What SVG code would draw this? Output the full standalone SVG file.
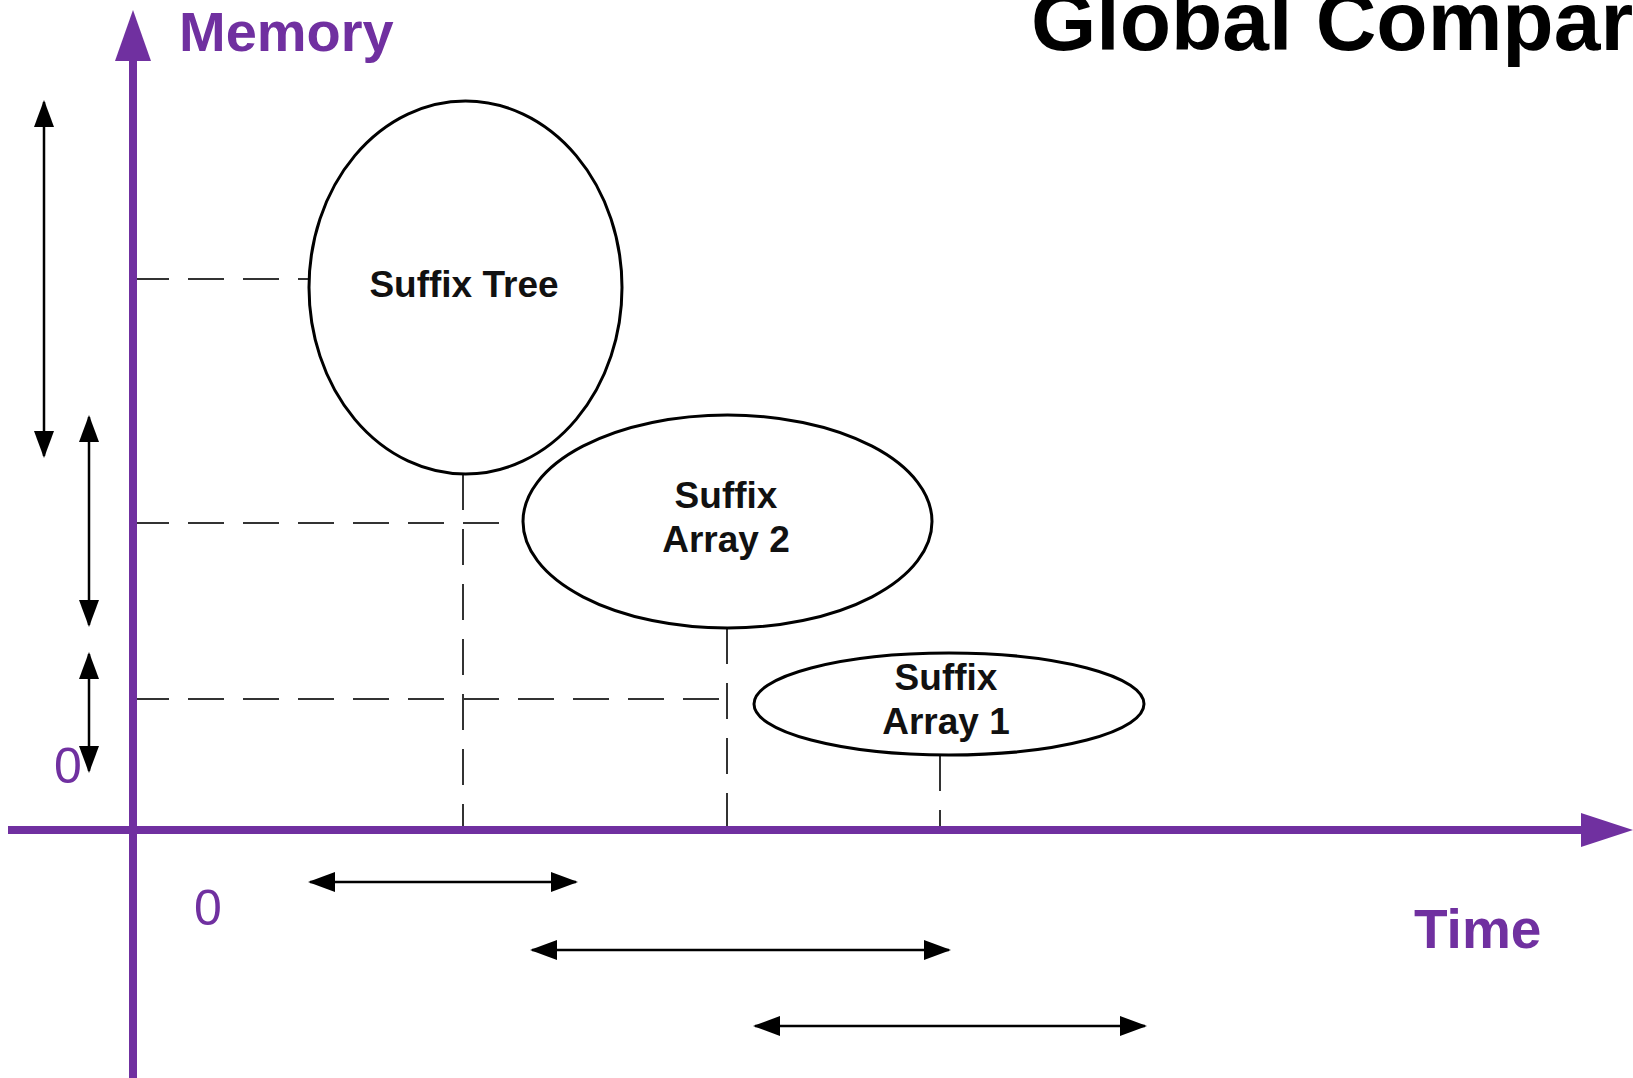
<svg xmlns="http://www.w3.org/2000/svg" width="1633" height="1078" viewBox="0 0 1633 1078">
  <style>
    .axis { stroke: #7030A0; stroke-width: 8; fill: none; }
    .axishead { fill: #7030A0; }
    .axislabel { font-family: "Liberation Sans", Arial, sans-serif; font-weight: bold; fill: #7030A0; }
    .zero { font-family: "Liberation Sans", Arial, sans-serif; font-size: 50px; fill: #7030A0; text-anchor: middle; }
    .dash { stroke: #333; stroke-width: 2; stroke-dasharray: 36 19; fill: none; }
    .node { fill: #fff; stroke: #000; stroke-width: 3; }
    .label { font-family: "Liberation Sans", Arial, sans-serif; font-weight: bold; font-size: 37px; fill: #111; text-anchor: middle; }
    .dim { stroke: #000; stroke-width: 2.5; fill: none; marker-start: url(#ah); marker-end: url(#ah); }
    .title { font-family: "Liberation Sans", Arial, sans-serif; font-weight: bold; font-size: 84px; fill: #000; }
  </style>
  <defs>
    <marker id="ah" viewBox="0 0 27 20" refX="25" refY="10" markerWidth="27" markerHeight="20" markerUnits="userSpaceOnUse" orient="auto-start-reverse">
      <path d="M0,0 L27,10 L0,20 z" fill="#000"/>
    </marker>
  </defs>
  <rect width="1633" height="1078" fill="#fff"/>

  <text class="title" x="1031" y="50">Global Compar</text>

  <g id="connectors">
    <!-- dashed guide lines -->
    <line class="dash" x1="133" y1="279" x2="316" y2="279"/>
    <line class="dash" x1="133" y1="523" x2="518" y2="523"/>
    <line class="dash" x1="133" y1="699" x2="736" y2="699"/>
    <line class="dash" x1="463" y1="474" x2="463" y2="830"/>
    <line class="dash" x1="727" y1="628" x2="727" y2="830"/>
    <line class="dash" x1="940" y1="755" x2="940" y2="830"/>
    <!-- memory dimension arrows -->
    <line class="dim" x1="44" y1="102" x2="44" y2="456"/>
    <line class="dim" x1="89" y1="417" x2="89" y2="625"/>
    <line class="dim" x1="89" y1="654" x2="89" y2="771"/>
    <!-- time dimension arrows -->
    <line class="dim" x1="310" y1="882" x2="576" y2="882"/>
    <line class="dim" x1="532" y1="950" x2="949" y2="950"/>
    <line class="dim" x1="755" y1="1026" x2="1145" y2="1026"/>
  </g>

  <g id="axes">
    <line class="axis" x1="133" y1="1078" x2="133" y2="58"/>
    <polygon class="axishead" points="133,10 115,61 151,61"/>
    <line class="axis" x1="8" y1="830" x2="1585" y2="830"/>
    <polygon class="axishead" points="1633,830 1581,813 1581,847"/>
    <text class="axislabel" x="179" y="51" font-size="56">Memory</text>
    <text class="axislabel" x="1414" y="948" font-size="55">Time</text>
    <text class="zero" x="68" y="783">0</text>
    <text class="zero" x="208" y="925">0</text>
  </g>

  <g id="suffix-tree">
    <ellipse class="node" cx="465.5" cy="287.5" rx="156.5" ry="186.5"/>
    <text class="label" x="464" y="297">Suffix Tree</text>
  </g>
  <g id="suffix-array-2">
    <ellipse class="node" cx="727.5" cy="521.5" rx="204.5" ry="106.5"/>
    <text class="label" x="726" y="508">Suffix</text>
    <text class="label" x="726" y="552">Array 2</text>
  </g>
  <g id="suffix-array-1">
    <ellipse class="node" cx="949" cy="704" rx="195" ry="51"/>
    <text class="label" x="946" y="690">Suffix</text>
    <text class="label" x="946" y="734">Array 1</text>
  </g>
</svg>
